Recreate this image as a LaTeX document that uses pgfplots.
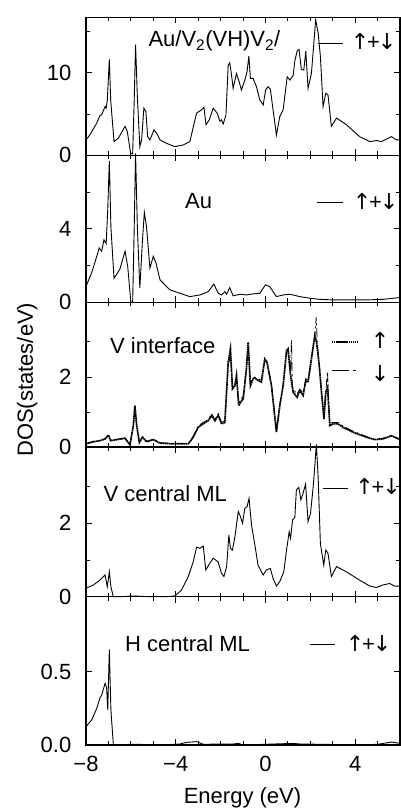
\documentclass[border=0pt]{standalone}
\usepackage{fontspec}
\setmainfont{Liberation Sans}
\newfontfamily\arrowfont{DejaVu Sans}
\usepackage{pgfplots}
\pgfplotsset{compat=1.18}
\pgfplotsset{
 panel/.style={
  scale only axis, width=314pt, xmin=-8, xmax=6, ymin=0,
  xtick={-8,-4,0,4}, minor xtick={-7,-6,-5,-3,-2,-1,1,2,3,5},
  tick align=inside, tick pos=both,
  major tick length=6pt, minor tick length=4pt,
  axis line style={line width=1.1pt},
  every tick/.style={line width=0.8pt, black},
  xticklabels={},
  yticklabel style={inner xsep=0pt, xshift=-14.5pt},
  anchor=south west, clip=false,
 },
}
\newcommand{\up}{\hbox to 12pt{\hss\arrowfont ↑\hss}}
\newcommand{\dn}{\hbox to 12pt{\hss\arrowfont ↓\hss}}
\newcommand{\ud}{\up\kern1pt+\kern1pt\dn}
\begin{document}
\begin{tikzpicture}[font=\fontsize{22}{26}\selectfont]
\path[use as bounding box] (-86pt,-67pt) rectangle (315pt,745pt);

% Panel 1: total
\begin{axis}[panel, at={(0pt,589.7pt)}, height=138pt, ymax=16.7,
  ytick={0,10}, yticklabels={0,10}, minor ytick={5,15}]
\addplot[black, no marks, line width=0.9pt] coordinates {
(-8,1.86) (-7.82,2.5) (-7.52,3.9) (-7.38,4.8) (-7.3,4.9) (-7.15,5.9) (-7.1,5.7) (-7.05,6.7)
(-6.96,11.6) (-6.9,6.7) (-6.75,1.66) (-6.56,2.06) (-6.26,3.5) (-6.16,2.9) (-6.01,0.24) (-5.92,0.16)
(-5.85,6.7) (-5.79,13.4) (-5.71,7.1) (-5.6,1.05) (-5.52,1.86) (-5.42,5.7) (-5.33,5.3) (-5.25,2.26)
(-5.15,1.86) (-4.97,3.07) (-4.85,2.67) (-4.7,1.86) (-4.41,1.45) (-4.04,1.05) (-3.66,1.25) (-3.37,1.66)
(-3.07,5.1) (-2.85,5.5) (-2.74,5.8) (-2.65,3.7) (-2.5,4.3) (-2.33,5.7) (-2.15,5.1) (-2.03,4.1)
(-1.96,4.3) (-1.88,3.8) (-1.76,4.9) (-1.66,10.9) (-1.59,11.2) (-1.51,9.7) (-1.44,8.1) (-1.29,9.9)
(-1.17,8.9) (-1.07,7.9) (-0.92,9.1) (-0.82,10.1) (-0.74,12.0) (-0.67,9.3) (-0.55,9.3) (-0.4,8.3)
(-0.25,6.7) (-0.1,6.1) (0.01,7.9) (0.12,8.3) (0.22,8.0) (0.34,5.5) (0.49,2.46) (0.64,4.7)
(0.79,5.5) (0.97,9.5) (1.09,9.1) (1.24,9.7) (1.31,11.4) (1.41,12.6) (1.5,12.8) (1.6,10.4)
(1.71,10.3) (1.8,12.6) (1.9,8.1) (2.05,9.9) (2.16,13.6) (2.24,16.4) (2.35,14.8) (2.45,12.0)
(2.57,5.9) (2.69,7.5) (2.79,7.3) (2.94,3.5) (3.17,4.5) (3.61,3.7) (4.2,2.26) (4.65,1.66)
(4.95,1.78) (5.17,1.66) (5.62,2.26) (5.84,1.86) (6.0,1.86)
};
\end{axis}

% Panel 2: Au
\begin{axis}[panel, at={(0pt,442.7pt)}, height=147pt, ymax=8,
  ytick={0,4}, yticklabels={0,4}, minor ytick={2,6}]
\addplot[black, no marks, line width=0.9pt] coordinates {
(-8,0.86) (-7.75,1.6) (-7.52,2.5) (-7.41,2.96) (-7.3,2.78) (-7.2,3.4) (-7.1,3.2) (-7.03,5.06)
(-6.96,7.7) (-6.89,4.1) (-6.75,1.3) (-6.49,1.8) (-6.26,2.78) (-6.14,1.95) (-6.0,0) (-5.92,0)
(-5.85,4.1) (-5.79,8.1) (-5.71,4.1) (-5.6,0.77) (-5.49,3.2) (-5.4,4.9) (-5.3,4.1) (-5.15,1.86)
(-5.0,2.5) (-4.88,2.14) (-4.7,1.22) (-4.26,0.68) (-3.81,0.49) (-3.37,0.31) (-2.92,0.4) (-2.55,0.58)
(-2.3,0.99) (-2.1,0.49) (-1.96,0.4) (-1.81,0.58) (-1.73,0.44) (-1.59,0.8) (-1.44,0.35) (-1.14,0.44)
(-0.85,0.4) (-0.55,0.46) (-0.25,0.49) (0,0.95) (0.19,0.86) (0.49,0.31) (0.79,0.4) (1.09,0.44)
(1.53,0.31) (1.98,0.22) (2.42,0.16) (3.02,0.13) (3.76,0.13) (4.5,0.13) (5.24,0.16) (6.0,0.26)
};
\end{axis}

% Panel 3: V interface
\begin{axis}[panel, at={(0pt,298pt)}, height=144.7pt, ymax=4.13,
  ytick={0,2}, yticklabels={0,2}, minor ytick={1,3}]
\addplot[black, no marks, line width=0.8pt, dash pattern=on 9pt off 3pt on 2pt off 3pt] coordinates {
(-8,0.1) (-7.67,0.16) (-7.38,0.19) (-7.15,0.24) (-7.0,0.33) (-6.9,0.19) (-6.63,0.22) (-6.26,0.26)
(-6.04,0.07) (-5.89,0.6) (-5.82,1.15) (-5.74,0.6) (-5.62,0.14) (-5.48,0.29) (-5.3,0.16) (-5.0,0.22)
(-4.7,0.12) (-4.11,0.1) (-3.44,0.1) (-3.22,0.3) (-3.0,0.6) (-2.78,0.7) (-2.55,0.78) (-2.4,0.95)
(-2.25,0.78) (-2.1,0.95) (-1.96,0.7) (-1.81,0.74) (-1.66,2.3) (-1.56,2.65) (-1.47,1.7) (-1.36,1.8)
(-1.29,2.0) (-1.19,1.25) (-1.11,1.35) (-0.99,1.45) (-0.85,2.2) (-0.77,2.85) (-0.67,1.8) (-0.52,2.0)
(-0.33,1.95) (-0.18,1.9) (-0.03,2.45) (0.07,2.4) (0.27,1.8) (0.49,0.45) (0.64,1.2) (0.79,1.8)
(0.94,2.7) (1.01,2.75) (1.12,2.1) (1.16,3.05) (1.2,1.7) (1.41,1.5) (1.53,1.65) (1.68,1.55)
(1.8,1.95) (1.9,1.9) (2.05,2.55) (2.2,3.1) (2.26,3.7) (2.32,2.9) (2.4,2.35) (2.5,1.6)
(2.61,0.85) (2.69,1.6) (2.77,2.15) (2.82,1.2) (2.87,0.68) (3.02,0.7) (3.24,0.7) (3.46,0.6)
(3.91,0.45) (4.5,0.3) (4.87,0.22) (5.24,0.25) (5.62,0.33) (6.0,0.22)
};
\addplot[black, no marks, line width=1.7pt, dash pattern=on 1.6pt off 0.5pt] coordinates {
(-8,0.09) (-7.67,0.15) (-7.38,0.18) (-7.15,0.23) (-7.0,0.34) (-6.9,0.18) (-6.63,0.21) (-6.26,0.25)
(-6.04,0.06) (-5.89,0.61) (-5.82,1.18) (-5.74,0.61) (-5.62,0.13) (-5.48,0.28) (-5.3,0.15) (-5.0,0.21)
(-4.7,0.11) (-4.11,0.09) (-3.44,0.09) (-3.22,0.28) (-3.0,0.56) (-2.78,0.66) (-2.55,0.75) (-2.4,0.9)
(-2.25,0.75) (-2.1,0.91) (-1.96,0.66) (-1.81,0.7) (-1.66,2.42) (-1.56,2.8) (-1.47,1.66) (-1.36,1.75)
(-1.29,2.04) (-1.19,1.18) (-1.11,1.28) (-0.99,1.37) (-0.85,2.23) (-0.77,2.99) (-0.67,1.75) (-0.52,1.99)
(-0.33,1.9) (-0.18,1.85) (-0.03,2.51) (0.07,2.42) (0.27,1.75) (0.49,0.42) (0.64,1.18) (0.79,1.75)
(0.94,2.75) (1.01,2.8) (1.12,2.04) (1.24,1.56) (1.41,1.42) (1.53,1.61) (1.68,1.47) (1.8,1.9)
(1.9,1.85) (2.05,2.51) (2.2,3.18) (2.28,2.99) (2.4,2.32) (2.5,1.56) (2.61,0.8) (2.69,1.56)
(2.77,1.7) (2.87,0.61) (3.02,0.66) (3.24,0.66) (3.46,0.56) (3.91,0.42) (4.5,0.28) (4.87,0.21)
(5.24,0.23) (5.62,0.32) (6.0,0.21)
};
\end{axis}

% Panel 4: V central ML
\begin{axis}[panel, at={(0pt,148.3pt)}, height=149.7pt, ymax=4.08,
  ytick={0,2}, yticklabels={0,2}, minor ytick={1,3}]
\addplot[black, no marks, line width=0.9pt] coordinates {
(-8,0.23) (-7.67,0.32) (-7.38,0.45) (-7.15,0.59) (-7.05,0.27) (-6.96,0.68) (-6.89,0.27) (-6.78,0)
(-6.5,0) (-5.9,0.02) (-5.15,0) (-4.41,0) (-4.04,0.02) (-3.74,0.18) (-3.44,0.55) (-3.22,0.95)
(-3.07,1.35) (-2.92,1.32) (-2.77,1.38) (-2.66,0.73) (-2.48,0.91) (-2.33,1.05) (-2.11,0.95) (-1.96,0.64)
(-1.85,0.55) (-1.73,0.82) (-1.63,1.68) (-1.56,1.32) (-1.47,1.27) (-1.36,1.64) (-1.21,2.32) (-1.11,2.18)
(-1.02,2.0) (-0.92,2.41) (-0.82,2.45) (-0.73,2.68) (-0.62,1.95) (-0.47,1.41) (-0.33,0.86) (-0.1,0.59)
(0.04,0.73) (0.22,0.77) (0.34,0.5) (0.49,0.29) (0.64,0.41) (0.82,0.68) (0.94,1.27) (1.06,1.77)
(1.12,1.59) (1.21,2.09) (1.31,2.16) (1.38,2.91) (1.49,2.98) (1.58,2.64) (1.68,2.82) (1.79,3.07)
(1.9,2.05) (2.01,2.27) (2.13,3.0) (2.2,3.55) (2.27,4.15) (2.35,3.27) (2.45,1.45) (2.6,0.86)
(2.69,1.27) (2.79,1.18) (2.94,0.55) (3.17,0.82) (3.61,0.68) (4.2,0.45) (4.65,0.29) (4.95,0.25)
(5.24,0.32) (5.54,0.36) (5.77,0.29) (6.0,0.29)
};
\end{axis}

% Panel 5: H central ML
\begin{axis}[panel, at={(0pt,0pt)}, height=148.3pt, ymax=1.01,
  ytick={0,0.5}, yticklabels={0.0,0.5},
  xticklabels={−8,−4,0,4},
  xticklabel style={anchor=base, yshift=-26.7pt}]
\addplot[black, no marks, line width=0.9pt] coordinates {
(-8,0.125) (-7.75,0.17) (-7.52,0.25) (-7.38,0.32) (-7.3,0.34) (-7.15,0.42) (-7.08,0.39) (-7.03,0.24)
(-6.96,0.65) (-6.89,0.24) (-6.78,0) (-5.9,0.005) (-4.41,0) (-3.81,0.007) (-3.52,0.018) (-3.07,0.023)
(-2.77,0.005) (-1.44,0.007) (-1.21,0.011) (-0.99,0) (1.24,0.011) (1.53,0.007) (4.5,0) (5.1,0.007)
(5.62,0.02) (6.0,0.011)
};
\end{axis}

% panel labels
\node[anchor=base west, inner sep=0pt] at (62.3pt,698.3pt) {Au/V\textsubscript{2}(VH)V\textsubscript{2}/};
\node[anchor=base west, inner sep=0pt] at (99pt,536.7pt) {Au};
\node[anchor=base west, inner sep=0pt] at (24pt,391.7pt) {V interface};
\node[anchor=base west, inner sep=0pt] at (17.3pt,243.3pt) {V central ML};
\node[anchor=base west, inner sep=0pt] at (39pt,93.3pt) {H central ML};

% legends
\draw[line width=0.9pt] (232.3pt,701.7pt) -- (257.3pt,701.7pt);
\node[anchor=west, inner sep=0pt] at (268pt,703.3pt) {\ud};
\draw[line width=0.9pt] (230.7pt,542.7pt) -- (257.3pt,542.7pt);
\node[anchor=west, inner sep=0pt] at (270pt,543.3pt) {\ud};
\draw[line width=1.7pt, dash pattern=on 1.6pt off 0.5pt] (245.7pt,402.7pt) -- (272.3pt,402.7pt);
\node[anchor=center, inner sep=0pt] at (294pt,405pt) {\up};
\draw[line width=0.8pt, dash pattern=on 17pt off 4pt on 3pt off 10pt] (245.7pt,375pt) -- (272.3pt,375pt);
\node[anchor=center, inner sep=0pt] at (294pt,371.7pt) {\dn};
\draw[line width=0.9pt] (237pt,256.7pt) -- (262pt,256.7pt);
\node[anchor=west, inner sep=0pt] at (272.5pt,258.3pt) {\ud};
\draw[line width=0.9pt] (224pt,100.7pt) -- (249pt,100.7pt);
\node[anchor=west, inner sep=0pt] at (263pt,101.7pt) {\ud};

% axis labels
\node[rotate=90, anchor=base] at (-53pt,365.3pt) {DOS(states/eV)};
\node[anchor=base] at (156.5pt,-58.3pt) {Energy (eV)};
\end{tikzpicture}
\end{document}
